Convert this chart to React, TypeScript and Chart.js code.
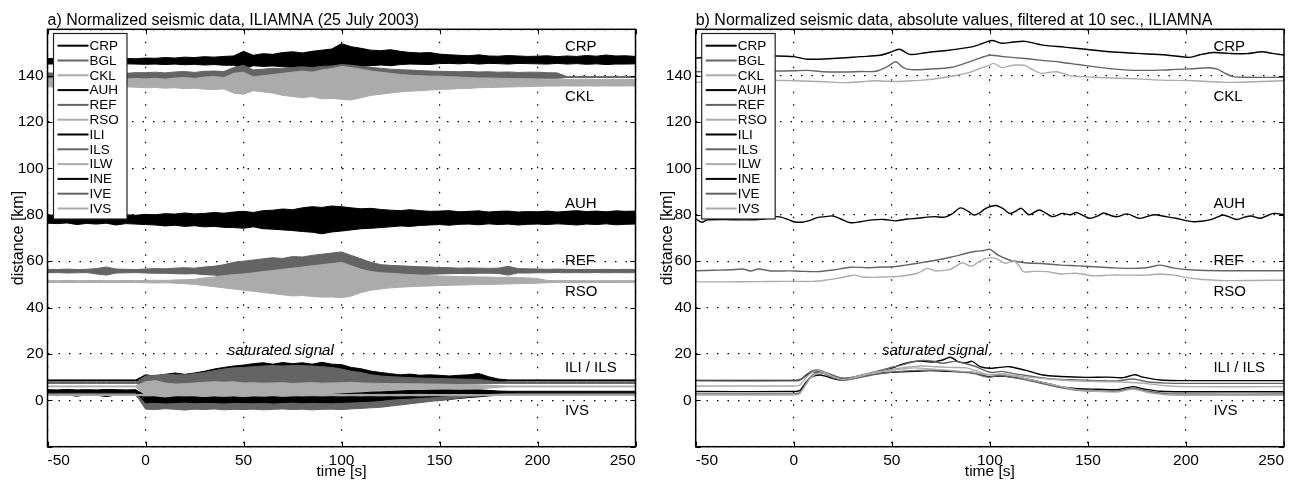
import React, { useEffect, useRef } from "react";
import { Chart, registerables } from "chart.js";

Chart.register(...registerables);

const FONT = "'Liberation Sans', Arial, Helvetica, sans-serif";
const BLACK = "#000000";
const DARK = "#646464";
const LIGHT = "#ababab";

const STATIONS = ["CRP", "BGL", "CKL", "AUH", "REF", "RSO", "ILI", "ILS", "ILW", "INE", "IVE", "IVS"];
const STATION_COLORS = [BLACK, DARK, LIGHT, BLACK, DARK, LIGHT, BLACK, DARK, LIGHT, BLACK, DARK, LIGHT];

const X_TICKS = [-50, 0, 50, 100, 150, 200, 250];
const Y_TICKS = [-20, 0, 20, 40, 60, 80, 100, 120, 140, 160];

const TITLE_A = "a) Normalized seismic data, ILIAMNA (25 July 2003)";
const TITLE_B = "b) Normalized seismic data, absolute values, filtered at 10 sec., ILIAMNA";
const X_TITLE = "time [s]";
const Y_TITLE = "distance [km]";

const SITE_LABELS = ["CRP", "CKL", "AUH", "REF", "RSO", "ILI / ILS", "IVS"];
const SITE_LABEL_Y = [152.5, 130.7, 84.6, 60.2, 46.8, 14.1, -4.5];
const SITE_LABEL_T = 214;
const NOTE = "saturated signal";
const NOTE_Y = 21.3;
const NOTE_T_A = 42;
const NOTE_T_B = 45;

// ---------- panel a: envelopes of raw traces, sampled every 5 s ----------
const T5 = [-50, -45, -40, -35, -30, -25, -20, -15, -10, -5, 0, 5, 10, 15, 20, 25, 30, 35, 40, 45, 50, 55, 60, 65, 70, 75, 80, 85, 90, 95, 100, 105, 110, 115, 120, 125, 130, 135, 140, 145, 150, 155, 160, 165, 170, 175, 180, 185, 190, 195, 200, 205, 210, 215, 220, 225, 230, 235, 240, 245, 250];

const A_CRP_HI = [147.4, 147.3, 147.5, 147.3, 147.4, 147.5, 147.3, 147.5, 147.4, 147.3,
  147.6, 147.5, 147.8, 147.6, 148.0, 147.8, 148.2, 148.0, 148.3, 148.5,
  150.5, 148.8, 149.5, 149.2, 150.0, 150.3, 149.8, 150.5, 151.0, 151.5,
  153.8, 152.5, 151.8, 151.0, 150.8, 151.2, 150.5, 150.0, 149.8, 150.0,
  149.3, 149.0, 148.8, 148.6, 149.0, 148.5, 148.4, 148.7, 148.5, 148.3,
  148.4, 148.6, 148.2, 148.5, 148.3, 148.7, 148.4, 148.9, 148.5, 148.6, 148.3];
const A_CRP_LO = [145.0, 145.1, 145.0, 145.1, 145.0, 145.1, 145.0, 145.0, 145.1, 145.0,
  144.9, 145.0, 144.8, 145.0, 144.7, 144.9, 144.6, 144.8, 144.5, 144.5,
  143.0, 144.3, 144.0, 144.2, 143.8, 143.6, 144.0, 143.5, 143.4, 143.2,
  142.5, 143.5, 144.0, 144.3, 144.6, 144.3, 144.8, 145.0, 144.9, 144.8,
  145.2, 145.3, 145.1, 145.4, 145.0, 145.3, 145.2, 145.0, 145.3, 145.2,
  145.1, 145.0, 145.3, 145.0, 145.2, 144.9, 145.1, 144.8, 145.0, 145.0, 145.1];

const A_BGL_HI = [141.2, 141.0, 141.3, 141.0, 141.2, 141.4, 141.1, 141.2, 141.0, 141.3,
  141.3, 141.5, 141.2, 141.6, 141.8, 141.4, 141.9, 142.0, 141.8, 143.5,
  144.5, 142.5, 142.8, 143.2, 143.0, 143.5, 143.8, 143.5, 144.0, 144.2,
  144.8, 144.5, 144.0, 143.6, 143.2, 142.8, 142.6, 142.4, 142.2, 142.0,
  141.9, 141.8, 141.7, 141.8, 141.6, 141.7, 141.5, 141.6, 141.4, 141.5,
  141.5, 141.3, 141.2, 139.6, 139.6, 139.6, 139.6, 139.6, 139.6, 139.6, 139.6];
const A_BGL_LO = [138.4, 138.6, 138.3, 138.5, 138.4, 138.2, 138.5, 138.3, 138.5, 138.4,
  138.2, 138.0, 138.3, 137.8, 137.9, 138.0, 137.5, 137.6, 137.8, 137.0,
  136.5, 137.2, 137.0, 136.8, 137.0, 136.5, 136.8, 136.4, 136.0, 136.3,
  135.5, 136.0, 136.5, 136.8, 137.2, 137.5, 137.8, 137.8, 138.0, 138.2,
  138.2, 138.3, 138.4, 138.3, 138.5, 138.4, 138.6, 138.5, 138.6, 138.7,
  138.6, 138.8, 138.8, 139.2, 139.2, 139.2, 139.2, 139.2, 139.2, 139.2, 139.2];

const A_CKL_HI = [138.6, 138.8, 138.5, 138.7, 138.6, 138.8, 138.5, 138.7, 138.6, 138.8,
  138.6, 138.9, 138.5, 139.0, 139.2, 138.8, 139.4, 139.6, 139.2, 141.0,
  141.5, 139.5, 140.0, 140.5, 141.0, 141.5, 142.0, 141.5, 142.5, 143.0,
  144.0, 143.5, 142.8, 142.0, 141.5, 141.0, 140.5, 140.2, 140.0, 139.8,
  139.8, 139.5, 139.4, 139.2, 139.0, 139.0, 138.9, 138.8, 138.7, 138.7,
  138.6, 138.5, 138.5, 138.4, 138.4, 138.5, 138.3, 138.4, 138.3, 138.4, 138.3];
const A_CKL_LO = [135.2, 135.0, 135.3, 135.1, 135.2, 135.0, 135.3, 135.1, 135.2, 135.0,
  134.8, 134.9, 134.6, 134.8, 134.4, 134.6, 134.2, 134.0, 134.3, 132.5,
  132.0, 133.5, 133.0, 132.5, 131.5, 131.0, 130.5, 131.0, 130.0, 130.2,
  129.8, 129.5, 130.5, 131.5, 132.0, 132.5, 133.0, 133.3, 133.5, 133.8,
  134.0, 134.2, 134.4, 134.5, 134.8, 134.9, 135.0, 135.1, 135.2, 135.3,
  135.4, 135.5, 135.5, 135.6, 135.5, 135.6, 135.5, 135.6, 135.5, 135.6, 135.5];

const A_AUH_HI = [79.8, 80.0, 79.6, 79.9, 79.7, 80.1, 79.8, 79.6, 80.0, 79.8,
  80.2, 80.0, 80.5, 80.3, 80.8, 80.4, 80.6, 81.0, 80.7, 81.2,
  81.5, 81.0, 81.8, 82.0, 82.5, 82.2, 83.0, 83.5, 83.2, 83.8,
  83.5, 83.0, 82.6, 82.8, 82.3, 82.0, 81.8, 82.2, 81.8, 81.5,
  81.6, 81.8, 81.3, 81.5, 81.7, 81.2, 81.5, 81.6, 81.2, 81.4,
  81.3, 81.6, 81.2, 81.5, 81.8, 81.4, 81.6, 81.3, 81.7, 81.5, 81.6];
const A_AUH_LO = [76.4, 76.2, 76.5, 75.8, 76.3, 76.0, 76.4, 75.6, 76.2, 76.0,
  75.8, 75.6, 75.2, 75.5, 75.0, 75.3, 74.8, 75.0, 74.6, 74.5,
  74.2, 74.8, 74.0, 73.8, 73.5, 73.2, 72.8, 72.5, 71.8, 72.6,
  73.0, 73.5, 74.0, 74.2, 74.5, 74.8, 75.2, 75.0, 75.4, 75.6,
  75.8, 75.5, 75.9, 76.0, 75.7, 76.1, 75.8, 76.0, 75.6, 75.9,
  76.0, 75.8, 76.1, 75.9, 75.6, 76.0, 75.8, 76.1, 75.7, 75.9, 76.0];

const A_REF_HI = [56.5, 56.4, 56.6, 56.4, 56.5, 56.8, 57.5, 56.6, 56.5, 56.4,
  56.6, 56.8, 56.7, 57.0, 57.2, 57.0, 57.5, 57.8, 58.5, 59.5,
  60.0, 60.5, 61.0, 61.5, 61.2, 62.0, 61.8, 62.5, 63.0, 63.5,
  64.0, 62.5, 61.0, 59.5, 58.5, 58.2, 58.0, 57.8, 57.6, 57.5,
  57.3, 57.2, 57.0, 57.1, 57.0, 56.9, 57.0, 57.8, 56.8, 56.7,
  56.6, 56.5, 56.6, 56.5, 56.4, 56.5, 56.4, 56.5, 56.4, 56.5, 56.4];
const A_REF_LO = [55.0, 55.1, 54.9, 55.0, 55.1, 54.5, 54.0, 54.9, 55.0, 55.1,
  54.9, 54.8, 54.8, 54.6, 54.5, 54.6, 54.2, 54.0, 53.5, 52.8,
  52.0, 51.8, 51.5, 51.0, 51.5, 50.8, 51.0, 50.5, 50.2, 50.0,
  49.8, 50.5, 51.5, 52.5, 53.5, 53.8, 54.0, 54.2, 54.3, 54.4,
  54.5, 54.6, 54.7, 54.6, 54.8, 54.8, 54.7, 54.0, 54.9, 54.9,
  55.0, 55.0, 55.1, 55.0, 55.1, 55.0, 55.1, 55.0, 55.1, 55.0, 55.1];

const A_RSO_HI = [51.6, 51.6, 51.7, 51.6, 51.6, 51.7, 51.6, 51.6, 51.7, 51.6,
  51.7, 51.8, 51.7, 51.9, 52.0, 52.2, 52.8, 53.2, 53.8, 54.2,
  54.5, 55.0, 55.5, 56.0, 56.5, 57.0, 57.5, 58.0, 58.5, 59.0,
  59.5, 58.0, 56.5, 55.5, 55.0, 54.8, 54.5, 54.2, 54.0, 53.8,
  53.6, 53.5, 53.4, 53.3, 53.2, 53.2, 53.0, 53.1, 52.9, 52.8,
  52.5, 51.7, 51.6, 51.6, 51.6, 51.6, 51.6, 51.6, 51.6, 51.6, 51.6];
const A_RSO_LO = [50.8, 50.8, 50.8, 50.8, 50.8, 50.8, 50.8, 50.8, 50.8, 50.8,
  50.7, 50.6, 50.7, 50.5, 50.3, 50.0, 49.5, 49.0, 48.5, 48.0,
  47.5, 47.0, 46.5, 46.0, 45.5, 45.0, 45.2, 44.8, 44.5, 44.6,
  44.2, 45.0, 46.5, 47.5, 48.0, 48.5, 48.8, 49.0, 49.2, 49.3,
  49.5, 49.6, 49.7, 49.8, 49.9, 50.0, 50.1, 50.2, 50.3, 50.4,
  50.5, 50.7, 50.8, 50.8, 50.8, 50.8, 50.8, 50.8, 50.8, 50.8, 50.8];

const A_ILI_HI = [8.8, 8.8, 8.8, 8.8, 8.8, 8.8, 8.8, 8.8, 8.8, 8.8,
  11.0, 10.5, 11.2, 11.8, 11.2, 11.8, 12.5, 13.5, 14.2, 14.8,
  15.2, 15.8, 16.2, 15.6, 16.3, 15.8, 16.2, 15.6, 16.4, 15.6,
  15.4, 14.2, 13.6, 12.6, 12.0, 11.5, 11.0, 11.3, 10.8, 11.0,
  10.8, 10.5, 10.8, 11.0, 11.6, 10.2, 9.2, 8.8, 8.8, 8.8,
  8.8, 8.8, 8.8, 8.8, 8.8, 8.8, 8.8, 8.8, 8.8, 8.8, 8.8];
const A_ILI_LO = [8.3, 8.3, 8.3, 8.3, 8.3, 8.3, 8.3, 8.3, 8.3, 8.3,
  7.5, 7.5, 7.5, 7.5, 7.5, 7.5, 7.5, 7.5, 7.5, 7.5,
  7.5, 7.5, 7.5, 7.5, 7.5, 7.5, 7.5, 7.5, 7.5, 7.5,
  7.5, 7.5, 7.5, 7.5, 7.5, 7.5, 7.5, 7.5, 7.5, 7.5,
  7.5, 7.5, 7.5, 7.5, 7.6, 7.8, 8.2, 8.3, 8.3, 8.3,
  8.3, 8.3, 8.3, 8.3, 8.3, 8.3, 8.3, 8.3, 8.3, 8.3, 8.3];

const A_ILS_HI = [7.7, 7.7, 7.7, 7.7, 7.7, 7.7, 7.7, 7.7, 7.7, 7.7,
  10.5, 10.8, 11.2, 11.0, 11.0, 11.5, 12.0, 12.8, 13.5, 14.0,
  14.2, 14.5, 14.8, 15.0, 14.8, 15.0, 15.0, 14.8, 14.5, 14.2,
  13.5, 12.5, 12.0, 11.0, 10.5, 10.2, 10.0, 9.8, 9.6, 9.5,
  9.4, 9.3, 9.2, 9.1, 9.0, 8.5, 7.9, 7.7, 7.7, 7.7,
  7.7, 7.7, 7.7, 7.7, 7.7, 7.7, 7.7, 7.7, 7.7, 7.7, 7.7];
const A_ILS_LO = [7.3, 7.3, 7.3, 7.3, 7.3, 7.3, 7.3, 7.3, 7.3, 7.3,
  6.0, 5.5, 6.0, 6.2, 6.0, 6.5, 6.8, 6.5, 6.8, 7.0,
  7.0, 7.0, 7.0, 7.0, 7.0, 7.0, 7.0, 7.0, 7.0, 7.0,
  7.0, 7.0, 7.0, 7.0, 7.0, 7.0, 7.0, 7.0, 7.0, 7.0,
  7.0, 7.0, 7.0, 7.1, 7.1, 7.2, 7.3, 7.3, 7.3, 7.3,
  7.3, 7.3, 7.3, 7.3, 7.3, 7.3, 7.3, 7.3, 7.3, 7.3, 7.3];

const A_ILW_HI = [6.2, 6.2, 6.2, 6.2, 6.2, 6.2, 6.2, 6.2, 6.2, 6.2,
  8.0, 8.5, 7.5, 7.0, 7.2, 7.5, 7.8, 8.0, 7.8, 8.0,
  7.5, 7.6, 7.4, 7.5, 7.6, 7.3, 7.5, 7.6, 7.4, 7.5,
  7.6, 7.8, 7.5, 7.4, 7.3, 7.2, 7.2, 7.1, 7.1, 7.0,
  7.0, 6.9, 6.8, 6.8, 6.6, 6.5, 6.3, 6.2, 6.2, 6.2,
  6.2, 6.2, 6.2, 6.2, 6.2, 6.2, 6.2, 6.2, 6.2, 6.2, 6.2];
const A_ILW_LO = [5.8, 5.8, 5.8, 5.8, 5.8, 5.8, 5.8, 5.8, 5.8, 5.8,
  1.5, 1.2, 1.0, 1.4, 1.8, 1.2, 1.0, 1.3, 1.1, 1.2,
  1.0, 1.3, 1.2, 1.4, 1.1, 1.3, 1.5, 1.6, 1.8, 2.0,
  2.2, 2.0, 2.0, 2.3, 2.5, 2.8, 3.0, 3.3, 3.5, 3.8,
  4.0, 4.2, 4.5, 4.8, 5.0, 5.3, 5.6, 5.8, 5.8, 5.8,
  5.8, 5.8, 5.8, 5.8, 5.8, 5.8, 5.8, 5.8, 5.8, 5.8, 5.8];

const A_INE_HI = [4.6, 4.5, 4.7, 4.5, 4.6, 4.5, 4.7, 4.6, 4.5, 4.6,
  2.0, 1.5, 1.0, 1.5, 1.8, 1.5, 1.2, 1.5, 1.3, 1.5,
  1.2, 1.5, 1.4, 1.6, 1.3, 1.5, 1.8, 2.0, 2.2, 2.5,
  2.8, 3.0, 3.2, 3.5, 3.6, 3.8, 4.0, 4.2, 4.2, 4.3,
  4.4, 4.4, 4.3, 4.4, 4.5, 4.3, 4.0, 3.9, 3.9, 3.9,
  3.9, 3.9, 3.9, 3.9, 3.9, 3.9, 3.9, 3.9, 3.9, 3.9, 3.9];
const A_INE_LO = [2.4, 2.0, 2.3, 1.8, 2.4, 2.2, 1.6, 2.3, 2.1, 2.4,
  -3.0, -2.6, -2.8, -2.5, -3.0, -2.7, -2.9, -2.6, -2.8, -2.5,
  -2.7, -2.9, -2.6, -2.8, -2.5, -2.9, -2.7, -2.8, -3.0, -2.8,
  -2.8, -2.6, -2.5, -2.2, -2.0, -1.8, -1.5, -1.0, -0.5, -0.2,
  0.0, 0.4, 0.8, 1.2, 1.5, 1.9, 2.2, 2.4, 2.4, 2.4,
  2.4, 2.4, 2.4, 2.4, 2.4, 2.4, 2.4, 2.4, 2.4, 2.4, 2.4];

const A_IVE_HI = [3.0, 3.0, 3.0, 3.0, 3.0, 3.0, 3.0, 3.0, 3.0, 3.0,
  -1.5, -1.3, -1.6, -1.4, -1.2, -1.5, -1.3, -1.4, -1.6, -1.3,
  -1.4, -1.5, -1.3, -1.6, -1.4, -1.2, -1.5, -1.3, -1.4, -1.5,
  -1.3, -1.2, -1.0, -0.8, -0.5, 0.0, 0.3, 0.5, 0.8, 1.0,
  1.3, 1.6, 1.9, 2.1, 2.3, 2.5, 2.7, 2.9, 3.0, 3.0,
  3.0, 3.0, 3.0, 3.0, 3.0, 3.0, 3.0, 3.0, 3.0, 3.0, 3.0];
const A_IVE_LO = [2.6, 2.6, 2.6, 2.6, 2.6, 2.6, 2.6, 2.6, 2.6, 2.6,
  -3.8, -4.0, -3.6, -3.9, -4.2, -3.8, -4.0, -3.7, -4.1, -3.9,
  -4.0, -3.8, -4.1, -3.9, -3.7, -4.0, -3.8, -4.1, -3.9, -3.8,
  -4.0, -3.7, -3.5, -3.2, -3.0, -2.5, -2.0, -1.5, -1.0, -0.5,
  0.0, 0.5, 1.0, 1.5, 1.8, 2.1, 2.4, 2.6, 2.6, 2.6,
  2.6, 2.6, 2.6, 2.6, 2.6, 2.6, 2.6, 2.6, 2.6, 2.6, 2.6];

const A_IVS_HI = [2.4, 2.4, 2.4, 2.4, 2.4, 2.4, 2.4, 2.4, 2.4, 2.4,
  2.6, 2.5, 2.6, 2.5, 2.6, 2.5, 2.6, 2.5, 2.6, 2.5,
  2.6, 2.5, 2.6, 2.5, 2.6, 2.5, 2.6, 2.5, 2.6, 2.5,
  2.6, 2.5, 2.6, 2.5, 2.6, 2.5, 2.6, 2.5, 2.6, 2.5,
  2.5, 2.5, 2.5, 2.5, 2.4, 2.4, 2.4, 2.4, 2.4, 2.4,
  2.4, 2.4, 2.4, 2.4, 2.4, 2.4, 2.4, 2.4, 2.4, 2.4, 2.4];
const A_IVS_LO = [2.1, 2.1, 2.1, 2.1, 2.1, 2.1, 2.1, 2.1, 2.1, 2.1,
  1.9, 2.0, 1.9, 2.0, 1.9, 2.0, 1.9, 2.0, 1.9, 2.0,
  1.9, 2.0, 1.9, 2.0, 1.9, 2.0, 1.9, 2.0, 1.9, 2.0,
  1.9, 2.0, 1.9, 2.0, 1.9, 2.0, 1.9, 2.0, 1.9, 2.0,
  2.0, 2.0, 2.0, 2.0, 2.1, 2.1, 2.1, 2.1, 2.1, 2.1,
  2.1, 2.1, 2.1, 2.1, 2.1, 2.1, 2.1, 2.1, 2.1, 2.1, 2.1];

// ---------- panel b: absolute values filtered at 10 s, [time, distance] ----------
const B_CRP = [[-50, 147.6], [-40, 148.0], [-30, 148.2], [-20, 148.4], [-9, 148.5], [0, 148.2], [7, 147.1], [20, 147.4], [34, 148.2], [44, 148.8], [49, 150.0], [54, 151.4], [59, 149.2], [65, 149.6], [71, 150.3], [80, 151.1], [90, 152.3], [96, 153.8], [101, 155.2], [106, 154.0], [112, 154.5], [118, 154.8], [127, 153.2], [138, 152.3], [149, 151.4], [161, 150.3], [175, 149.6], [190, 148.9], [202, 147.9], [207, 149.0], [214, 150.0], [222, 149.6], [231, 149.5], [239, 150.3], [244, 149.6], [250, 148.9]];
const B_BGL = [[-50, 141.7], [-40, 141.8], [-30, 142.0], [-20, 141.9], [-10, 142.0], [0, 142.1], [7, 142.3], [15, 141.7], [25, 141.6], [35, 141.8], [42, 141.9], [48, 144.0], [52, 146.0], [56, 143.4], [60, 142.6], [70, 142.9], [80, 143.5], [88, 145.5], [93, 147.0], [100, 148.8], [107, 148.2], [118, 147.4], [128, 146.5], [136, 145.8], [145, 144.8], [153, 143.9], [162, 143.0], [170, 142.4], [180, 142.3], [187, 142.4], [195, 142.7], [204, 143.0], [212, 143.4], [216, 142.8], [220, 141.0], [224, 139.6], [230, 139.3], [250, 139.3]];
const B_CKL = [[-50, 137.1], [-40, 137.3], [-30, 137.6], [-20, 137.8], [-10, 138.0], [0, 137.8], [8, 137.6], [16, 137.4], [26, 137.0], [34, 137.4], [41, 137.8], [47, 137.6], [53, 137.5], [60, 137.8], [66, 138.1], [75, 139.0], [84, 140.3], [90, 141.5], [95, 143.2], [99, 144.2], [102, 145.3], [106, 143.5], [110, 144.2], [113, 144.6], [118, 144.4], [122, 142.5], [126, 141.0], [130, 141.4], [134, 141.7], [138, 140.8], [141, 139.9], [147, 139.6], [153, 139.3], [166, 138.9], [175, 138.6], [187, 138.1], [204, 137.8], [220, 137.1], [235, 137.4], [250, 137.8]];
const B_AUH = [[-50, 78.3], [-47, 76.8], [-44, 77.8], [-35, 78.0], [-25, 77.8], [-15, 78.2], [-8, 79.2], [-3, 78.0], [0, 77.0], [4, 76.8], [8, 77.5], [12, 78.8], [16, 79.2], [20, 79.5], [24, 78.2], [29, 76.6], [34, 77.0], [40, 77.8], [46, 78.0], [52, 77.4], [58, 78.2], [63, 78.5], [68, 79.0], [72, 79.2], [77, 79.0], [81, 80.5], [85, 83.0], [89, 81.5], [92, 79.9], [95, 81.0], [98, 82.8], [103, 84.0], [107, 82.5], [110, 80.6], [113, 81.5], [116, 82.8], [120, 80.0], [125, 82.1], [129, 80.5], [132, 79.2], [137, 80.6], [141, 80.0], [144, 81.0], [148, 79.5], [151, 78.5], [155, 79.5], [158, 80.8], [162, 79.6], [165, 79.2], [170, 80.4], [176, 78.5], [180, 79.2], [184, 80.0], [190, 79.2], [195, 78.5], [200, 77.5], [204, 77.0], [208, 77.2], [212, 77.8], [216, 79.0], [219, 79.9], [223, 78.8], [226, 78.0], [230, 79.0], [233, 79.5], [238, 78.5], [242, 79.8], [245, 80.6], [250, 80.0]];
const B_REF = [[-50, 55.9], [-40, 56.1], [-32, 56.3], [-26, 56.6], [-22, 55.8], [-18, 56.6], [-12, 55.8], [-5, 55.8], [0, 55.8], [6, 55.6], [12, 55.5], [20, 56.2], [29, 57.4], [38, 57.2], [46, 57.5], [51, 57.6], [57, 58.3], [63, 59.1], [71, 60.2], [80, 61.7], [88, 63.4], [93, 64.3], [97, 64.6], [100, 65.1], [104, 62.7], [110, 60.5], [118, 59.3], [126, 59.0], [136, 58.3], [145, 58.0], [153, 57.6], [162, 57.2], [170, 56.9], [180, 57.2], [187, 58.3], [194, 57.0], [204, 56.2], [220, 55.9], [235, 55.9], [250, 55.9]];
const B_RSO = [[-50, 51.1], [-35, 51.1], [-20, 51.2], [-5, 51.3], [0, 51.3], [10, 51.3], [16, 51.8], [22, 52.6], [27, 53.4], [31, 54.0], [35, 53.2], [40, 53.0], [45, 53.2], [51, 53.3], [57, 53.8], [63, 54.8], [66, 56.0], [68, 56.9], [72, 55.8], [76, 56.0], [80, 56.5], [83, 58.0], [86, 59.3], [89, 58.2], [91, 57.9], [94, 59.5], [98, 61.2], [103, 61.2], [108, 59.1], [112, 60.2], [115, 58.0], [117, 55.5], [122, 55.6], [129, 55.5], [136, 54.5], [144, 54.8], [153, 53.7], [161, 54.0], [170, 54.0], [180, 54.0], [187, 54.5], [195, 53.8], [200, 53.0], [207, 52.2], [215, 51.8], [221, 51.6], [235, 51.7], [250, 51.8]];
const B_ILI = [[-50, 8.6], [0, 8.6], [3, 8.8], [6, 10.5], [9, 12.0], [12, 12.3], [16, 11.5], [20, 10.0], [24, 9.2], [28, 9.5], [35, 10.8], [42, 12.0], [49, 13.5], [55, 15.5], [60, 16.6], [65, 16.9], [70, 16.5], [76, 17.4], [80, 18.6], [84, 16.6], [88, 16.2], [91, 16.8], [95, 14.5], [100, 13.8], [105, 14.2], [110, 14.5], [118, 13.0], [127, 10.9], [136, 10.3], [149, 9.9], [160, 10.0], [168, 9.8], [174, 11.0], [178, 10.0], [187, 8.75], [200, 8.5], [250, 8.5]];
const B_ILS = [[-50, 8.4], [0, 8.4], [3, 8.6], [6, 10.8], [9, 12.6], [13, 13.0], [17, 11.8], [21, 10.5], [25, 9.6], [30, 10.0], [36, 11.2], [42, 12.5], [48, 13.8], [55, 15.2], [60, 16.4], [65, 17.2], [70, 17.0], [76, 16.0], [82, 16.8], [87, 16.0], [92, 14.8], [97, 13.0], [101, 12.0], [106, 12.5], [112, 11.5], [120, 10.5], [128, 9.5], [136, 9.0], [145, 8.8], [155, 8.5], [165, 8.4], [173, 9.2], [180, 8.0], [190, 7.4], [200, 7.3], [250, 7.3]];
const B_ILW = [[-50, 6.2], [0, 6.2], [3, 6.5], [6, 9.5], [9, 11.8], [13, 12.8], [17, 11.5], [21, 9.5], [25, 8.8], [30, 9.8], [36, 11.0], [42, 12.2], [48, 13.0], [55, 14.0], [60, 14.5], [65, 14.8], [72, 14.5], [80, 14.2], [88, 14.0], [94, 12.5], [100, 11.0], [106, 11.5], [112, 10.8], [120, 10.0], [130, 9.2], [140, 8.5], [150, 8.2], [160, 8.0], [170, 7.8], [180, 7.2], [190, 6.3], [200, 5.9], [250, 5.9]];
const B_INE = [[-50, 3.8], [0, 3.8], [3, 4.2], [6, 7.5], [9, 10.0], [13, 10.9], [17, 10.2], [21, 9.2], [25, 8.8], [30, 9.5], [36, 10.5], [42, 11.5], [48, 12.0], [55, 12.3], [62, 12.5], [70, 12.8], [78, 12.5], [86, 12.3], [92, 12.0], [99, 10.2], [105, 10.5], [112, 10.0], [120, 9.0], [128, 7.5], [136, 5.9], [145, 5.0], [155, 4.8], [165, 4.6], [173, 5.9], [178, 5.0], [187, 3.9], [200, 3.7], [250, 3.7]];
const B_IVE = [[-50, 2.8], [0, 2.8], [3, 3.2], [6, 7.0], [9, 10.5], [13, 12.0], [17, 11.0], [21, 9.5], [25, 8.6], [30, 9.2], [36, 10.2], [42, 11.2], [48, 12.0], [55, 12.5], [62, 12.8], [70, 13.0], [78, 12.8], [86, 12.2], [92, 11.5], [99, 10.0], [105, 10.8], [112, 9.8], [120, 8.5], [128, 7.0], [136, 5.5], [145, 4.3], [155, 4.0], [165, 4.0], [173, 5.2], [180, 4.0], [190, 2.9], [200, 2.7], [250, 2.7]];
const B_IVS = [[-50, 2.3], [0, 2.3], [3, 2.8], [6, 6.5], [9, 10.0], [13, 11.8], [17, 11.2], [21, 9.8], [25, 9.0], [30, 9.6], [36, 10.8], [42, 11.8], [48, 12.8], [55, 13.5], [62, 14.0], [70, 13.5], [78, 13.0], [86, 12.5], [92, 12.0], [99, 11.0], [105, 11.2], [112, 10.5], [120, 9.0], [128, 7.5], [136, 6.0], [145, 4.5], [155, 3.8], [165, 3.6], [173, 4.8], [180, 3.5], [190, 2.4], [200, 2.2], [250, 2.2]];

const A_BANDS = [
  [A_CRP_HI, A_CRP_LO], [A_BGL_HI, A_BGL_LO], [A_CKL_HI, A_CKL_LO], [A_AUH_HI, A_AUH_LO],
  [A_REF_HI, A_REF_LO], [A_RSO_HI, A_RSO_LO], [A_ILI_HI, A_ILI_LO], [A_ILS_HI, A_ILS_LO],
  [A_ILW_HI, A_ILW_LO], [A_INE_HI, A_INE_LO], [A_IVE_HI, A_IVE_LO], [A_IVS_HI, A_IVS_LO],
];
const B_LINES = [B_CRP, B_BGL, B_CKL, B_AUH, B_REF, B_RSO, B_ILI, B_ILS, B_ILW, B_INE, B_IVE, B_IVS];

function datasetsA(): any[] {
  const out: any[] = [];
  A_BANDS.forEach(([hi, lo], i) => {
    const col = STATION_COLORS[i];
    const order = 100 - i * 2;
    out.push({
      label: STATIONS[i],
      data: T5.map((t, k) => ({ x: t, y: hi[k] })),
      borderColor: col, backgroundColor: col, borderWidth: 1, pointRadius: 0,
      tension: 0, fill: "+1", order,
    });
    out.push({
      label: STATIONS[i] + " lo",
      data: T5.map((t, k) => ({ x: t, y: lo[k] })),
      borderColor: col, backgroundColor: col, borderWidth: 1, pointRadius: 0,
      tension: 0, fill: false, order,
    });
  });
  return out;
}

function datasetsB(): any[] {
  return B_LINES.map((pts, i) => ({
    label: STATIONS[i],
    data: pts.map(([x, y]) => ({ x, y })),
    borderColor: STATION_COLORS[i], backgroundColor: STATION_COLORS[i],
    borderWidth: 1.4, pointRadius: 0, tension: 0.3, fill: false,
    order: 100 - i,
  }));
}

function makeDecor(title: string, noteT: number) {
  return {
    id: "decor",
    afterDraw(chart: any) {
      const { ctx, chartArea: ar, scales } = chart;
      const xs = scales.x, ys = scales.y;
      ctx.save();
      // frame
      ctx.strokeStyle = "#000";
      ctx.lineWidth = 1.5;
      ctx.strokeRect(ar.left, ar.top, ar.right - ar.left, ar.bottom - ar.top);
      // inward ticks
      ctx.lineWidth = 1;
      ctx.beginPath();
      for (const v of X_TICKS) {
        const px = Math.round(xs.getPixelForValue(v)) + 0.5;
        ctx.moveTo(px, ar.bottom); ctx.lineTo(px, ar.bottom - 5);
        ctx.moveTo(px, ar.top); ctx.lineTo(px, ar.top + 5);
      }
      for (const v of Y_TICKS) {
        const py = Math.round(ys.getPixelForValue(v)) + 0.5;
        ctx.moveTo(ar.left, py); ctx.lineTo(ar.left + 5, py);
        ctx.moveTo(ar.right, py); ctx.lineTo(ar.right - 5, py);
      }
      ctx.stroke();
      // legend
      const lx = ar.left + 6, ly = 33.5, lw = 73.5, lh = 185.5;
      ctx.fillStyle = "#fff";
      ctx.fillRect(lx, ly, lw, lh);
      ctx.strokeStyle = "#222";
      ctx.lineWidth = 1.2;
      ctx.strokeRect(lx, ly, lw, lh);
      ctx.font = `13.5px ${FONT}`;
      ctx.textAlign = "left";
      ctx.textBaseline = "middle";
      STATIONS.forEach((s, i) => {
        const y = 45.7 + i * 14.8;
        ctx.strokeStyle = STATION_COLORS[i];
        ctx.lineWidth = 2;
        ctx.beginPath();
        ctx.moveTo(lx + 4, y); ctx.lineTo(lx + 35, y);
        ctx.stroke();
        ctx.fillStyle = "#000";
        ctx.fillText(s, lx + 36, y + 0.5);
      });
      // station labels
      ctx.fillStyle = "#000";
      ctx.font = `15px ${FONT}`;
      SITE_LABELS.forEach((s, i) => {
        ctx.fillText(s, xs.getPixelForValue(SITE_LABEL_T), ys.getPixelForValue(SITE_LABEL_Y[i]));
      });
      ctx.font = `italic 15px ${FONT}`;
      ctx.fillText(NOTE, xs.getPixelForValue(noteT), ys.getPixelForValue(NOTE_Y));
      // title
      ctx.font = `16px ${FONT}`;
      ctx.textBaseline = "alphabetic";
      ctx.fillText(title, ar.left, 25);
      // axis titles
      ctx.font = `15.5px ${FONT}`;
      ctx.textAlign = "center";
      ctx.textBaseline = "middle";
      ctx.fillText(X_TITLE, (ar.left + ar.right) / 2, 472);
      ctx.translate(ar.left - 28.5, (ar.top + ar.bottom) / 2);
      ctx.rotate(-Math.PI / 2);
      ctx.font = `16px ${FONT}`;
      ctx.fillText(Y_TITLE, 0, 0);
      ctx.restore();
    },
  };
}

function buildConfig(datasets: any[], title: string, leftW: number, rightPad: number, noteT: number): any {
  const tickFont = { family: FONT, size: 15.5 };
  return {
    type: "line",
    data: { datasets },
    options: {
      responsive: false,
      animation: false,
      devicePixelRatio: 1,
      layout: { padding: { top: 29.3, right: rightPad, left: 0, bottom: 0 } },
      plugins: { legend: { display: false }, tooltip: { enabled: false } },
      scales: {
        x: {
          type: "linear", min: -50, max: 250,
          ticks: { stepSize: 50, align: "inner", color: "#000", font: tickFont, padding: 5, maxRotation: 0, autoSkip: false },
          grid: { color: "#000", lineWidth: 1.2, drawTicks: false },
          border: { display: false, dash: [1.5, 11] },
          afterFit: (s: any) => { s.height = 38.3; s.paddingLeft = 0; s.paddingRight = 0; },
        },
        y: {
          type: "linear", min: -20, max: 160,
          ticks: {
            stepSize: 20, color: "#000", font: tickFont, padding: 4,
            callback: (v: number) => (v < 0 || v > 140 ? "" : String(v)),
          },
          grid: { color: "#000", lineWidth: 1.2, drawTicks: false },
          border: { display: false, dash: [1.5, 9] },
          afterFit: (s: any) => { s.width = leftW; s.paddingTop = 0; s.paddingBottom = 0; },
        },
      },
    },
    plugins: [makeDecor(title, noteT)],
  };
}

export default function App() {
  const refA = useRef<HTMLCanvasElement>(null);
  const refB = useRef<HTMLCanvasElement>(null);
  useEffect(() => {
    document.body.style.margin = "0";
    const a = new Chart(refA.current as HTMLCanvasElement, buildConfig(datasetsA(), TITLE_A, 47.5, 11.5, NOTE_T_A));
    const b = new Chart(refB.current as HTMLCanvasElement, buildConfig(datasetsB(), TITLE_B, 48.7, 10, NOTE_T_B));
    return () => { a.destroy(); b.destroy(); };
  }, []);
  return (
    <div style={{ position: "relative", width: 1294, height: 485, display: "flex", background: "#fff" }}>
      <canvas ref={refA} width={647} height={485} style={{ display: "block", width: 647, height: 485 }} />
      <canvas ref={refB} width={647} height={485} style={{ display: "block", width: 647, height: 485 }} />
    </div>
  );
}
